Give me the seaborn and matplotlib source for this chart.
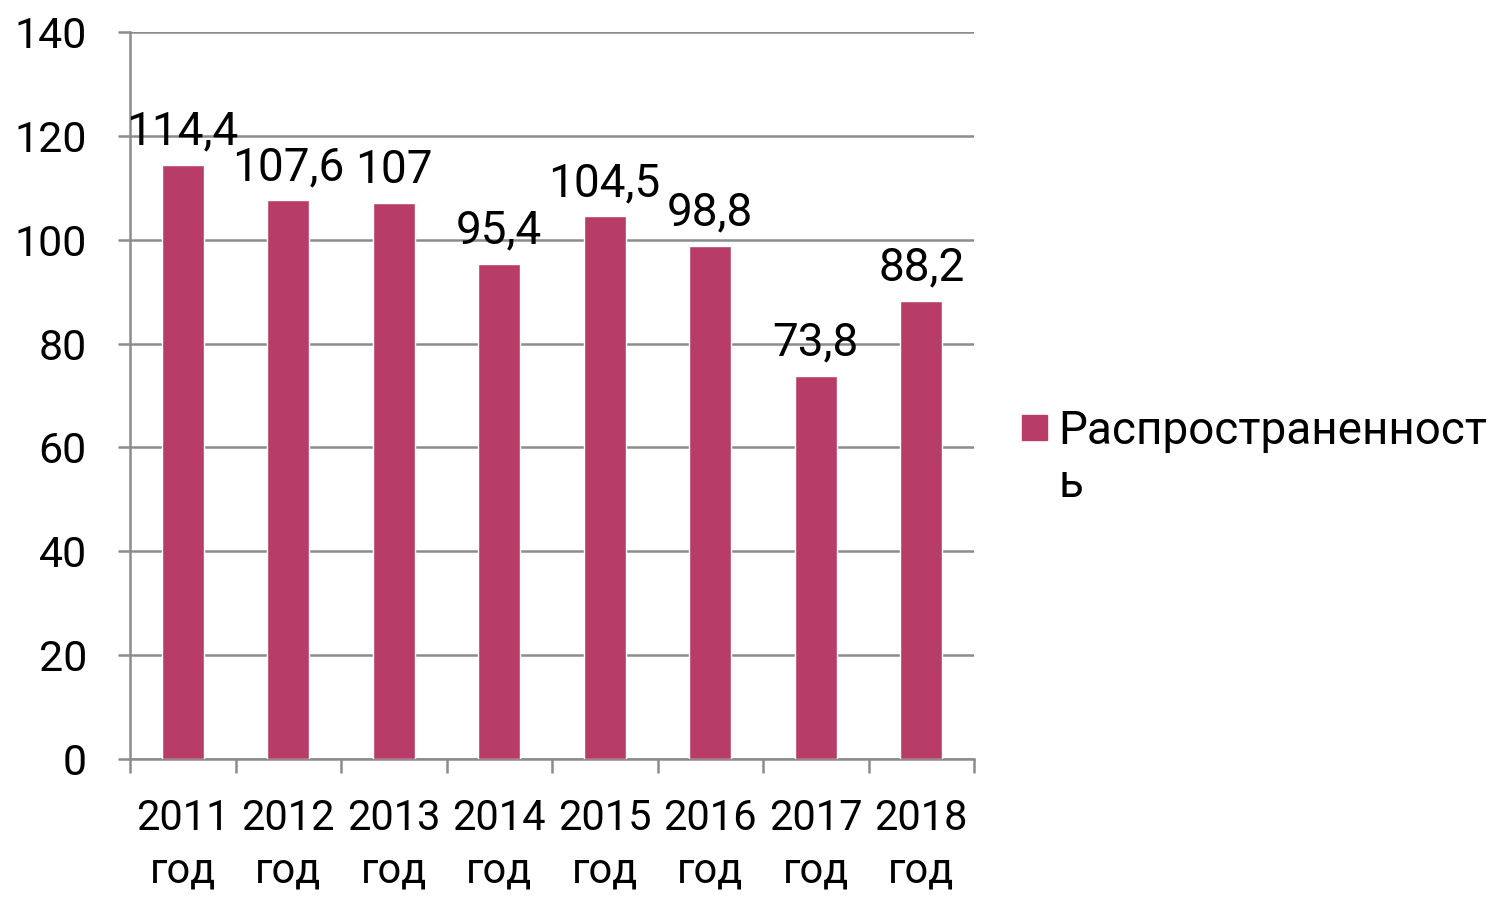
import matplotlib
matplotlib.use("Agg")
import matplotlib.pyplot as plt
from matplotlib.patches import Rectangle
import seaborn as sns
import pandas as pd
import numpy as np

# --- DATA ---
years = ['2011\nгод', '2012\nгод', '2013\nгод', '2014\nгод',
         '2015\nгод', '2016\nгод', '2017\nгод', '2018\nгод']
values = [114.4, 107.6, 107, 95.4, 104.5, 98.8, 73.8, 88.2]
series_name = 'Распространенност\nь'

bar_color = '#B83C68'
grid_color = '#8C8C8C'

sns.set_style("white")
plt.rcParams['font.family'] = ['Roboto', 'DejaVu Sans']
plt.rcParams['text.color'] = 'black'
plt.rcParams['xtick.labelcolor'] = 'black'
plt.rcParams['ytick.labelcolor'] = 'black'

df = pd.DataFrame({'year': years, 'value': values})

fig = plt.figure(figsize=(14.93, 8.99), dpi=100)
ax = fig.add_axes([130 / 1493, 1 - 759 / 899, (974 - 130) / 1493, (759 - 32) / 899])

sns.barplot(data=df, x='year', y='value', color=bar_color, width=0.4,
            saturation=1, ax=ax, zorder=3)

# data labels with decimal comma
labels = [f"{v:g}".replace('.', ',') for v in values]
ax.bar_label(ax.containers[0], labels=labels, padding=8, fontsize=33, color='black')

ax.set_ylim(0, 140)
ax.set_yticks(range(0, 141, 20))
ax.set_xlim(-0.5, len(years) - 0.5)
ax.yaxis.grid(True, color=grid_color, linewidth=1.8, zorder=0)
ax.set_axisbelow(True)
ax.set_xlabel('')
ax.set_ylabel('')

for side in ['top', 'right']:
    ax.spines[side].set_visible(False)
for side in ['left', 'bottom']:
    ax.spines[side].set_color(grid_color)
    ax.spines[side].set_linewidth(1.8)

# tick marks between categories
ax.set_xticks(np.arange(-0.5, len(years), 1), minor=True)
ax.tick_params(axis='x', which='major', length=0, pad=28, labelsize=30)
ax.tick_params(axis='x', which='minor', length=10, width=1.8, color=grid_color, direction='out')
ax.tick_params(axis='y', length=9, width=1.8, color=grid_color, pad=22, labelsize=31)
ax.yaxis.set_tick_params(left=True)
ax.xaxis.set_tick_params(which='minor', bottom=True)
for t in ax.get_xticklabels():
    t.set_linespacing(1.35)

# legend: square key + wrapped series name
fig.patches.append(Rectangle((1022 / 1493, 1 - 440 / 899), 25 / 1493, 25 / 899,
                             transform=fig.transFigure, color=bar_color))
fig.text(1058 / 1493, 1 - 497 / 899, series_name, fontsize=33, va='baseline',
         ha='left', linespacing=1.25)

plt.savefig('out.png', dpi=100)
